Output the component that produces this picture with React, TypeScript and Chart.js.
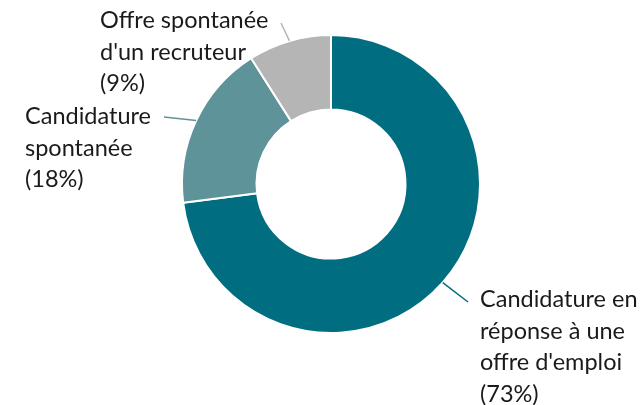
import React, { useEffect, useRef } from "react";
import { Chart, registerables } from "chart.js";

Chart.register(...registerables);

const categories = [
  "Candidature en réponse à une offre d'emploi",
  "Candidature spontanée",
  "Offre spontanée d'un recruteur",
];
const values = [73, 18, 9];
const colors = ["#006E80", "#5E939A", "#B5B5B5"];
const labelLines = [
  ["Candidature en", "réponse à une", "offre d'emploi", "(73%)"],
  ["Candidature", "spontanée", "(18%)"],
  ["Offre spontanée", "d'un recruteur", "(9%)"],
];
// label block offsets (left x, first baseline) and leader end, relative to centre
const labelOffsets = [
  { tx: 149, ty: 123, lx: 137, ly: 118 },
  { tx: -306, ty: -60, lx: -167, ly: -67 },
  { tx: -231, ty: -156, lx: -50, ly: -161 },
];

const FONT = "23.5px Lato, 'Open Sans', sans-serif";
const LINE_H = 31.6;

const labelPlugin = {
  id: "outerLabels",
  afterDraw(chart: any) {
    const ctx = chart.ctx;
    const meta = chart.getDatasetMeta(0);
    ctx.save();
    meta.data.forEach((arc: any, i: number) => {
      const p = arc.getProps(["x", "y", "startAngle", "endAngle", "outerRadius"], true);
      const mid = (p.startAngle + p.endAngle) / 2;
      const sx = p.x + Math.cos(mid) * p.outerRadius;
      const sy = p.y + Math.sin(mid) * p.outerRadius;
      const o = labelOffsets[i];
      ctx.strokeStyle = colors[i];
      ctx.lineWidth = 1.5;
      ctx.beginPath();
      ctx.moveTo(sx, sy);
      ctx.lineTo(p.x + o.lx, p.y + o.ly);
      ctx.stroke();
      ctx.fillStyle = "#1a1a1a";
      ctx.font = FONT;
      ctx.textAlign = "left";
      ctx.textBaseline = "alphabetic";
      labelLines[i].forEach((line, j) => {
        ctx.fillText(line, p.x + o.tx, p.y + o.ty + j * LINE_H);
      });
    });
    ctx.restore();
  },
};

export default function App() {
  const ref = useRef<HTMLCanvasElement>(null);
  useEffect(() => {
    if (!ref.current) return;
    const chart = new Chart(ref.current, {
      type: "doughnut",
      data: {
        labels: categories,
        datasets: [
          {
            data: values,
            backgroundColor: colors,
            borderColor: "#ffffff",
            borderWidth: 2,
          },
        ],
      },
      options: {
        responsive: false,
        animation: false,
        cutout: "50%",
        layout: { padding: { left: 181, top: 34, right: 162, bottom: 71 } },
        plugins: { legend: { display: false }, tooltip: { enabled: false } },
      },
      plugins: [labelPlugin],
    });
    return () => chart.destroy();
  }, []);
  return (
    <div style={{ position: "absolute", left: 0, top: 0, width: 643, height: 405, background: "#fff" }}>
      <canvas ref={ref} width={643} height={405} />
    </div>
  );
}
